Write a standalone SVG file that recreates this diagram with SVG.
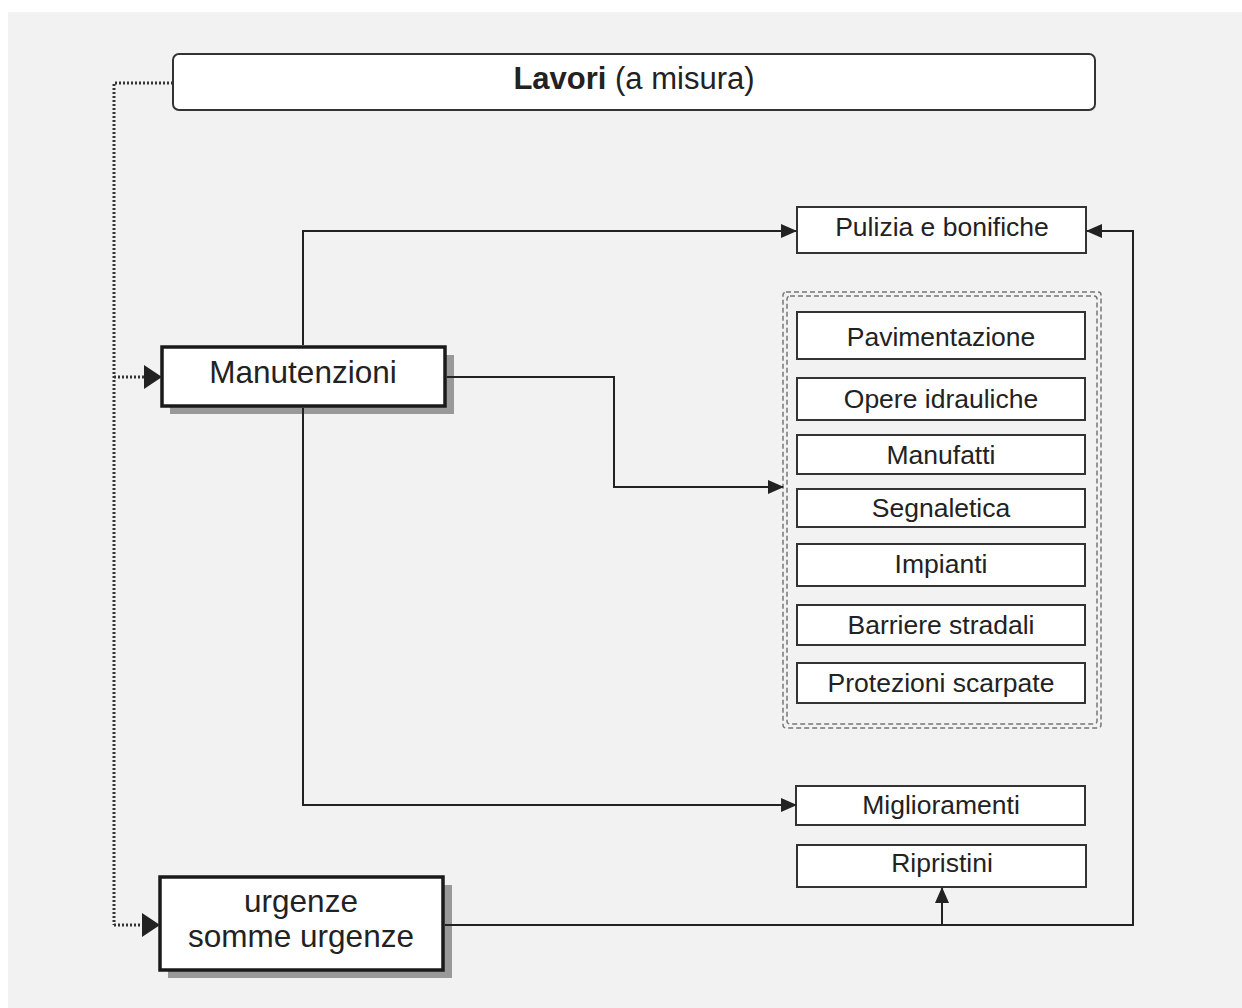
<svg xmlns="http://www.w3.org/2000/svg" width="1242" height="1008" viewBox="0 0 1242 1008">
<defs>
<marker id="arrS" markerWidth="16" markerHeight="16" refX="15" refY="8" orient="auto" markerUnits="userSpaceOnUse" viewBox="0 0 16 16">
<path d="M0,1 L16,8 L0,15 z" fill="#222"/>
</marker>
</defs>
<style>
text{font-family:"Liberation Sans",Arial,sans-serif;fill:#222;text-anchor:middle}
.box{fill:#fff;stroke:#333;stroke-width:2}
.big{fill:#fff;stroke:#1a1a1a;stroke-width:3.5}
.shadow{fill:#999}
.conn{fill:none;stroke:#222;stroke-width:2}
.dot{fill:none;stroke:#333;stroke-width:3;stroke-dasharray:2 2}
.dash{fill:none;stroke:#777;stroke-width:1.5;stroke-dasharray:5 3}
.t24{font-size:26.5px}
.t28{font-size:31.5px}
</style>
<rect x="8" y="12" width="1234" height="996" fill="#f2f2f2"/>

<g id="lavori">
<rect class="box" x="173" y="54" width="922" height="56" rx="6"/>
<text x="634" y="89" style="font-size:31px"><tspan font-weight="bold">Lavori</tspan> (a misura)</text>
</g>

<g id="manutenzioni">
<rect class="shadow" x="170" y="355" width="284" height="59"/>
<rect class="big" x="162" y="347" width="283" height="59"/>
<text x="303" y="383" class="t28">Manutenzioni</text>
</g>

<g id="urgenze">
<rect class="shadow" x="168" y="885" width="284" height="93"/>
<rect class="big" x="160" y="877" width="283" height="93"/>
<text x="301" y="912" class="t28">urgenze</text>
<text x="301" y="947" class="t28">somme urgenze</text>
</g>

<g id="pulizia">
<rect class="box" x="797" y="207" width="289" height="46"/>
<text x="942" y="236" class="t24">Pulizia e bonifiche</text>
</g>

<g id="gruppo">
<rect class="dash" x="783" y="292" width="318" height="436" rx="3"/>
<rect class="dash" x="787" y="296" width="310" height="428" rx="3"/>
</g>

<g id="pavimentazione">
<rect class="box" x="797" y="312" width="288" height="47"/>
<text x="941" y="346" class="t24">Pavimentazione</text>
</g>
<g id="opere">
<rect class="box" x="797" y="378" width="288" height="42"/>
<text x="941" y="408" class="t24">Opere idrauliche</text>
</g>
<g id="manufatti">
<rect class="box" x="797" y="435" width="288" height="39"/>
<text x="941" y="464" class="t24">Manufatti</text>
</g>
<g id="segnaletica">
<rect class="box" x="797" y="489" width="288" height="38"/>
<text x="941" y="517" class="t24">Segnaletica</text>
</g>
<g id="impianti">
<rect class="box" x="797" y="544" width="288" height="42"/>
<text x="941" y="573" class="t24">Impianti</text>
</g>
<g id="barriere">
<rect class="box" x="797" y="605" width="288" height="40"/>
<text x="941" y="634" class="t24">Barriere stradali</text>
</g>
<g id="protezioni">
<rect class="box" x="797" y="663" width="288" height="40"/>
<text x="941" y="692" class="t24">Protezioni scarpate</text>
</g>

<g id="miglioramenti">
<rect class="box" x="796" y="786" width="289" height="39"/>
<text x="941" y="814" class="t24">Miglioramenti</text>
</g>
<g id="ripristini">
<rect class="box" x="797" y="845" width="289" height="42"/>
<text x="942" y="872" class="t24">Ripristini</text>
</g>

<g id="connectors">
<path class="dot" d="M173,83 H114 V925"/>
<path class="dot" d="M114,377 H144"/>
<path class="dot" d="M114,925 H142"/>
<path d="M144,365 L162,377 L144,389 z" fill="#222"/>
<path d="M142,913 L160,925 L142,937 z" fill="#222"/>
<path class="conn" d="M303,345 V231 H796" marker-end="url(#arrS)"/>
<path class="conn" d="M447,377 H614 V487 H783" marker-end="url(#arrS)"/>
<path class="conn" d="M303,408 V805 H796" marker-end="url(#arrS)"/>
<path class="conn" d="M445,925 H1133 V231 H1087" marker-end="url(#arrS)"/>
<path class="conn" d="M942,925 V888" marker-end="url(#arrS)"/>
</g>
</svg>
